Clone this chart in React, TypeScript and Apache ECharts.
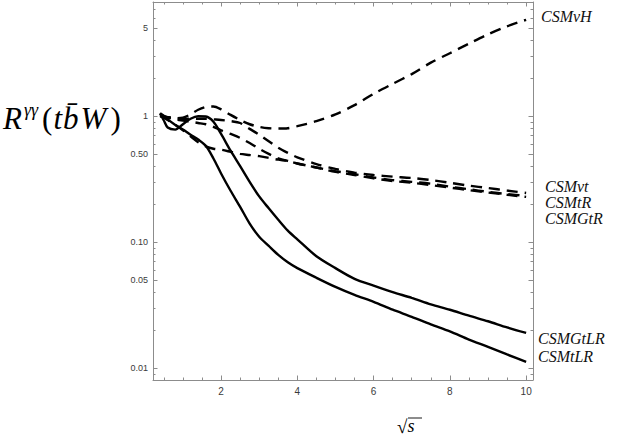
import React, { useEffect, useRef } from "react";
import * as echarts from "echarts";

// sqrt(s) sample points shared by all curves
const X_GRID = [0.4, 0.5, 0.6, 0.8, 1.0, 1.2, 1.4, 1.6, 1.8, 2.0, 2.25, 2.5, 2.75, 3.0, 3.25, 3.5, 3.75, 4.0, 4.5, 5, 5.5, 6, 6.5, 7, 7.5, 8, 8.5, 9, 9.5, 10];

// dashed curves
const CSMvH = [1.02, 1.0, 0.98, 0.96, 0.97, 1.03, 1.12, 1.18, 1.19, 1.13, 1.02, 0.93, 0.86, 0.82, 0.8, 0.795, 0.8, 0.83, 0.91, 1.03, 1.22, 1.5, 1.8, 2.15, 2.65, 3.15, 3.75, 4.45, 5.15, 5.8];
const CSMvt = [1.0, 0.99, 0.98, 0.96, 0.95, 0.95, 0.95, 0.95, 0.94, 0.93, 0.91, 0.88, 0.79, 0.71, 0.63, 0.56, 0.51, 0.47, 0.415, 0.38, 0.355, 0.34, 0.33, 0.322, 0.31, 0.295, 0.28, 0.268, 0.256, 0.245];
const CSMtR = [1.0, 0.985, 0.97, 0.94, 0.92, 0.9, 0.88, 0.86, 0.82, 0.77, 0.72, 0.67, 0.61, 0.55, 0.5, 0.46, 0.44, 0.42, 0.39, 0.365, 0.345, 0.325, 0.31, 0.3, 0.29, 0.275, 0.262, 0.25, 0.24, 0.232];
const CSMGtR = [1.0, 0.97, 0.93, 0.85, 0.77, 0.69, 0.62, 0.575, 0.55, 0.54, 0.52, 0.5, 0.49, 0.48, 0.465, 0.45, 0.44, 0.42, 0.39, 0.36, 0.34, 0.32, 0.305, 0.295, 0.283, 0.27, 0.258, 0.247, 0.237, 0.228];

// solid curves
const CSMtLR = [1.05, 1.0, 0.94, 0.85, 0.78, 0.71, 0.65, 0.58, 0.46, 0.35, 0.255, 0.19, 0.14, 0.11, 0.093, 0.079, 0.069, 0.062, 0.052, 0.044, 0.038, 0.0335, 0.029, 0.0255, 0.0222, 0.0195, 0.0168, 0.0147, 0.0128, 0.0112];
const CSMGtLR = [1.05, 0.92, 0.81, 0.78, 0.86, 0.95, 0.995, 0.99, 0.9, 0.72, 0.53, 0.4, 0.3, 0.23, 0.185, 0.15, 0.123, 0.105, 0.077, 0.062, 0.051, 0.045, 0.04, 0.036, 0.032, 0.029, 0.026, 0.0235, 0.021, 0.019];

const SERIES_NAMES = ["CSMvH", "CSMvt", "CSMtR", "CSMGtR", "CSMGtLR", "CSMtLR"];
const SERIES_VALUES = [CSMvH, CSMvt, CSMtR, CSMGtR, CSMGtLR, CSMtLR];
const SERIES_DASHED = [true, true, true, true, false, false];

// axes
const X_MIN = 0.215;
const X_MAX = 10.18;
const Y_MIN = 0.00803;
const Y_MAX = 8.03;
const X_MAJOR = [2, 4, 6, 8, 10];
const X_MINOR = [0.5, 1, 1.5, 2.5, 3, 3.5, 4.5, 5, 5.5, 6.5, 7, 7.5, 8.5, 9, 9.5];
const Y_MAJOR = [5, 1, 0.5, 0.1, 0.05, 0.01];
const Y_MAJOR_LABELS = ["5", "1", "0.50", "0.10", "0.05", "0.01"];
const Y_MINOR = [8, 7, 6, 4, 3, 2, 0.9, 0.8, 0.7, 0.6, 0.4, 0.3, 0.2, 0.09, 0.08, 0.07, 0.06, 0.04, 0.03, 0.02, 0.009];

const FRAME = "#8c8c8c";
const TICK_TEXT = "#3a3a3a";
const L = (v: number) => Math.log10(v);

function xAxisDef(position: string, ticks: number[], len: number, labels: boolean, line: boolean) {
  return {
    type: "value",
    position,
    min: X_MIN,
    max: X_MAX,
    axisLine: { show: line, onZero: false, lineStyle: { color: FRAME, width: 1 } },
    axisTick: { show: true, inside: true, length: len, customValues: ticks, lineStyle: { color: FRAME, width: 1 } },
    axisLabel: labels
      ? { show: true, customValues: X_MAJOR, color: TICK_TEXT, fontSize: 10, margin: 6, fontFamily: "Liberation Sans" }
      : { show: false },
    splitLine: { show: false },
  };
}

function yAxisDef(position: string, ticks: number[], len: number, labels: boolean, line: boolean) {
  return {
    type: "value",
    position,
    min: L(Y_MIN),
    max: L(Y_MAX),
    axisLine: { show: line, onZero: false, lineStyle: { color: FRAME, width: 1 } },
    axisTick: { show: true, inside: true, length: len, customValues: ticks.map(L), lineStyle: { color: FRAME, width: 1 } },
    axisLabel: labels
      ? {
          show: true,
          customValues: Y_MAJOR.map(L),
          color: TICK_TEXT,
          fontSize: 9,
          margin: 5,
          fontFamily: "Liberation Sans",
          formatter: (v: number) => {
            let best = 0;
            for (let i = 1; i < Y_MAJOR.length; i++) {
              if (Math.abs(L(Y_MAJOR[i]) - v) < Math.abs(L(Y_MAJOR[best]) - v)) best = i;
            }
            return Y_MAJOR_LABELS[best];
          },
        }
      : { show: false },
    splitLine: { show: false },
  };
}

const LABEL_POS: Record<string, [number, number]> = {
  CSMvH: [541, 16],
  CSMvt: [545, 186],
  CSMtR: [545, 202],
  CSMGtR: [545, 218],
  CSMGtLR: [538, 338],
  CSMtLR: [538, 356],
};

export default function App() {
  const ref = useRef<HTMLDivElement>(null);
  useEffect(() => {
    if (!ref.current) return;
    const chart = echarts.init(ref.current, undefined, { renderer: "svg" });
    const series = SERIES_NAMES.map((name, k) => ({
      name,
      type: "line",
      xAxisIndex: 0,
      yAxisIndex: 0,
      showSymbol: false,
      smooth: 0.3,
      data: X_GRID.map((x, i) => [x, L(SERIES_VALUES[k][i])]),
      lineStyle: { color: "#000", width: 2.4, type: SERIES_DASHED[k] ? [11, 7] : "solid", cap: "butt" },
      z: 5,
    }));
    const labelFont = 'italic 16px "Liberation Serif"';
    const graphics: any[] = SERIES_NAMES.map((name) => ({
      type: "text",
      x: LABEL_POS[name][0],
      y: LABEL_POS[name][1],
      style: { text: name, font: labelFont, fill: "#111", verticalAlign: "middle", align: "left" },
    }));
    graphics.push({
      type: "text",
      x: 3,
      y: 118,
      style: {
        text: "{i|R}{s|γγ}{n|(}{i|t}{i|b\u0304}{w|W}{n|)}",
        fill: "#000",
        verticalAlign: "middle",
        align: "left",
        rich: {
          i: { fontFamily: "Liberation Serif", fontStyle: "italic", fontSize: 31, lineHeight: 34, padding: [0, 1, 0, 0] },
          w: { fontFamily: "Liberation Serif", fontStyle: "italic", fontSize: 31, lineHeight: 34, padding: [0, 3, 0, 1] },
          n: { fontFamily: "Liberation Serif", fontSize: 31, lineHeight: 34, padding: [0, 1, 0, 1] },
          s: { fontFamily: "Liberation Serif", fontStyle: "italic", fontSize: 18, lineHeight: 18, verticalAlign: "top", padding: [0, 3, 0, 1] },
        },
      },
    });
    graphics.push({
      type: "text",
      x: 397,
      y: 426,
      style: {
        text: "{r|√}{s|s}",
        fill: "#000",
        verticalAlign: "middle",
        align: "left",
        rich: {
          r: { fontFamily: "Liberation Serif", fontSize: 19 },
          s: { fontFamily: "Liberation Serif", fontStyle: "italic", fontSize: 18 },
        },
      },
    });
    graphics.push({
      type: "line",
      shape: { x1: 408, y1: 418, x2: 422, y2: 418 },
      style: { stroke: "#000", lineWidth: 0.9 },
    });
    chart.setOption({
      animation: false,
      backgroundColor: "#fff",
      grid: { left: 153, right: 92, top: 2, bottom: 56, containLabel: false },
      xAxis: [
        xAxisDef("bottom", X_MAJOR, 4.5, true, true),
        xAxisDef("bottom", X_MINOR, 2.5, false, false),
        xAxisDef("top", X_MAJOR, 4.5, false, true),
        xAxisDef("top", X_MINOR, 2.5, false, false),
      ],
      yAxis: [
        yAxisDef("left", Y_MAJOR, 4.5, true, true),
        yAxisDef("left", Y_MINOR, 2.5, false, false),
        yAxisDef("right", Y_MAJOR, 4.5, false, true),
        yAxisDef("right", Y_MINOR, 2.5, false, false),
      ],
      series,
      graphic: graphics,
    });
    return () => chart.dispose();
  }, []);
  return <div ref={ref} style={{ position: "fixed", left: 0, top: 0, width: 625, height: 436 }} />;
}
